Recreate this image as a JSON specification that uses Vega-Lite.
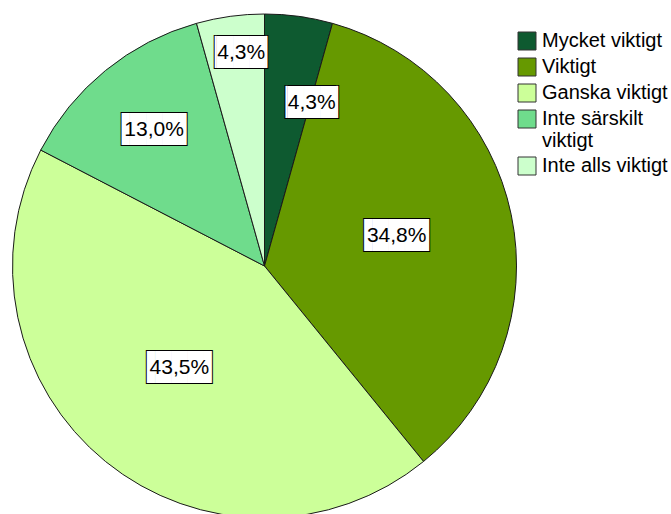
{
  "$schema": "https://vega.github.io/schema/vega-lite/v6.json",
  "width": 529,
  "height": 532,
  "autosize": "none",
  "padding": {"left": 0, "top": 0, "right": 142, "bottom": 0},
  "background": "white",
  "config": {"view": {"stroke": null}},
  "data": {
    "values": [
      {"cat": "Mycket viktigt", "n": 1, "idx": 1, "label": "4,3%"},
      {"cat": "Viktigt", "n": 8, "idx": 2, "label": "34,8%"},
      {"cat": "Ganska viktigt", "n": 10, "idx": 3, "label": "43,5%"},
      {"cat": "Inte särskilt viktigt", "n": 3, "idx": 4, "label": "13,0%"},
      {"cat": "Inte alls viktigt", "n": 1, "idx": 5, "label": "4,3%"}
    ]
  },
  "encoding": {
    "theta": {"field": "n", "type": "quantitative", "stack": true},
    "order": {"field": "idx", "type": "quantitative"}
  },
  "layer": [
    {
      "mark": {"type": "arc", "outerRadius": 252, "stroke": "#1a1a1a", "strokeWidth": 1},
      "encoding": {
        "color": {
          "field": "cat", "type": "nominal",
          "scale": {
            "domain": ["Mycket viktigt", "Viktigt", "Ganska viktigt", "Inte särskilt viktigt", "Inte alls viktigt"],
            "range": ["#0e5a30", "#669900", "#ccff99", "#6fdc8c", "#ccffcc"]
          },
          "legend": {
            "orient": "none", "legendX": 517, "legendY": 31, "title": null,
            "symbolType": "square", "symbolSize": 324, "symbolStrokeColor": "#333333",
            "symbolStrokeWidth": 1, "symbolOpacity": 1,
            "labelFont": "Liberation Sans", "labelFontSize": 20, "labelColor": "black",
            "labelLimit": 200, "rowPadding": 4, "labelOffset": 5, "padding": 0,
            "labelExpr": "datum.label == 'Inte särskilt viktigt' ? ['Inte särskilt', 'viktigt'] : datum.label"
          }
        }
      }
    },
    {
      "mark": {"type": "text", "font": "DejaVu Sans Mono", "fontSize": 27, "fill": "white", "stroke": "black", "strokeWidth": 2, "baseline": "middle", "align": "center", "dy": -3},
      "encoding": {
        "radius": {"value": 135},
        "text": {"condition": {"test": "length(datum.label) < 5", "value": "▕███▏"}, "value": "▐███▌"},
        "opacity": {"condition": {"test": "datum.cat == 'Viktigt' || datum.cat == 'Ganska viktigt'", "value": 1}, "value": 0}
      }
    },
    {
      "mark": {"type": "text", "font": "DejaVu Sans Mono", "fontSize": 27, "fill": "white", "baseline": "middle", "align": "center", "dy": -3},
      "encoding": {
        "radius": {"value": 135},
        "text": {"condition": {"test": "length(datum.label) < 5", "value": "▕███▏"}, "value": "▐███▌"},
        "opacity": {"condition": {"test": "datum.cat == 'Viktigt' || datum.cat == 'Ganska viktigt'", "value": 1}, "value": 0}
      }
    },
    {
      "mark": {"type": "text", "font": "Liberation Sans", "fontSize": 21, "fill": "black", "baseline": "middle", "align": "center", "dy": -3},
      "encoding": {
        "radius": {"value": 135},
        "text": {"field": "label"},
        "opacity": {"condition": {"test": "datum.cat == 'Viktigt' || datum.cat == 'Ganska viktigt'", "value": 1}, "value": 0}
      }
    },
    {
      "mark": {"type": "text", "font": "DejaVu Sans Mono", "fontSize": 27, "fill": "white", "stroke": "black", "strokeWidth": 2, "baseline": "middle", "align": "center"},
      "encoding": {
        "radius": {"value": 175},
        "text": {"condition": {"test": "length(datum.label) < 5", "value": "▕███▏"}, "value": "▐███▌"},
        "opacity": {"condition": {"test": "datum.cat == 'Inte särskilt viktigt'", "value": 1}, "value": 0}
      }
    },
    {
      "mark": {"type": "text", "font": "DejaVu Sans Mono", "fontSize": 27, "fill": "white", "baseline": "middle", "align": "center"},
      "encoding": {
        "radius": {"value": 175},
        "text": {"condition": {"test": "length(datum.label) < 5", "value": "▕███▏"}, "value": "▐███▌"},
        "opacity": {"condition": {"test": "datum.cat == 'Inte särskilt viktigt'", "value": 1}, "value": 0}
      }
    },
    {
      "mark": {"type": "text", "font": "Liberation Sans", "fontSize": 21, "fill": "black", "baseline": "middle", "align": "center"},
      "encoding": {
        "radius": {"value": 175},
        "text": {"field": "label"},
        "opacity": {"condition": {"test": "datum.cat == 'Inte särskilt viktigt'", "value": 1}, "value": 0}
      }
    },
    {
      "mark": {"type": "text", "font": "DejaVu Sans Mono", "fontSize": 27, "fill": "white", "stroke": "black", "strokeWidth": 2, "baseline": "middle", "align": "center", "dx": 24, "dy": 6},
      "encoding": {
        "radius": {"value": 171},
        "text": {"condition": {"test": "length(datum.label) < 5", "value": "▕███▏"}, "value": "▐███▌"},
        "opacity": {"condition": {"test": "datum.cat == 'Mycket viktigt'", "value": 1}, "value": 0}
      }
    },
    {
      "mark": {"type": "text", "font": "DejaVu Sans Mono", "fontSize": 27, "fill": "white", "baseline": "middle", "align": "center", "dx": 24, "dy": 6},
      "encoding": {
        "radius": {"value": 171},
        "text": {"condition": {"test": "length(datum.label) < 5", "value": "▕███▏"}, "value": "▐███▌"},
        "opacity": {"condition": {"test": "datum.cat == 'Mycket viktigt'", "value": 1}, "value": 0}
      }
    },
    {
      "mark": {"type": "text", "font": "Liberation Sans", "fontSize": 21, "fill": "black", "baseline": "middle", "align": "center", "dx": 24, "dy": 6},
      "encoding": {
        "radius": {"value": 171},
        "text": {"field": "label"},
        "opacity": {"condition": {"test": "datum.cat == 'Mycket viktigt'", "value": 1}, "value": 0}
      }
    },
    {
      "mark": {"type": "text", "font": "DejaVu Sans Mono", "fontSize": 27, "fill": "white", "stroke": "black", "strokeWidth": 2, "baseline": "middle", "align": "center", "dx": 6},
      "encoding": {
        "radius": {"value": 215},
        "text": {"condition": {"test": "length(datum.label) < 5", "value": "▕███▏"}, "value": "▐███▌"},
        "opacity": {"condition": {"test": "datum.cat == 'Inte alls viktigt'", "value": 1}, "value": 0}
      }
    },
    {
      "mark": {"type": "text", "font": "DejaVu Sans Mono", "fontSize": 27, "fill": "white", "baseline": "middle", "align": "center", "dx": 6},
      "encoding": {
        "radius": {"value": 215},
        "text": {"condition": {"test": "length(datum.label) < 5", "value": "▕███▏"}, "value": "▐███▌"},
        "opacity": {"condition": {"test": "datum.cat == 'Inte alls viktigt'", "value": 1}, "value": 0}
      }
    },
    {
      "mark": {"type": "text", "font": "Liberation Sans", "fontSize": 21, "fill": "black", "baseline": "middle", "align": "center", "dx": 6},
      "encoding": {
        "radius": {"value": 215},
        "text": {"field": "label"},
        "opacity": {"condition": {"test": "datum.cat == 'Inte alls viktigt'", "value": 1}, "value": 0}
      }
    }
  ]
}
